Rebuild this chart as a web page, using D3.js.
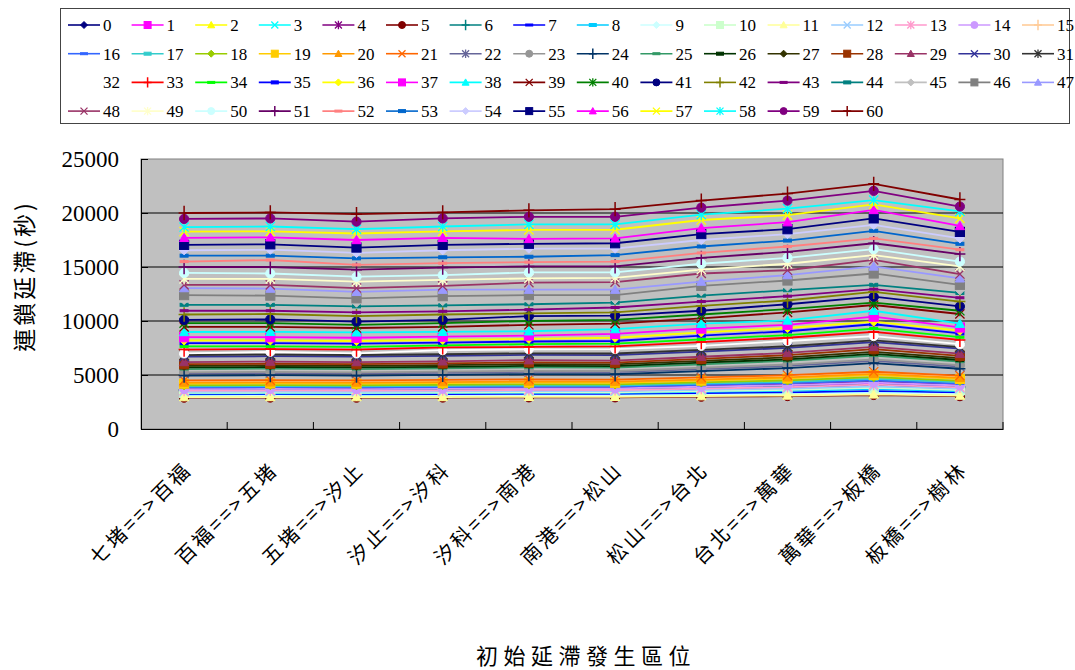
<!DOCTYPE html>
<html><head><meta charset="utf-8">
<script src="https://cdn.jsdelivr.net/npm/d3@7"></script>
<style>body{margin:0;background:#fff;} svg{display:block}</style>
</head><body>
<svg id="chart" width="1075" height="670"></svg>
<script>
const categories = ["七堵==>百福","百福==>五堵","五堵==>汐止","汐止==>汐科","汐科==>南港","南港==>松山","松山==>台北","台北==>萬華","萬華==>板橋","板橋==>樹林"];
const yTicks = [0, 5000, 10000, 15000, 20000, 25000];
const yTitle = "連鎖延滯(秒)";
const xTitle = "初始延滯發生區位";

const s00 = [3500, 3520, 3500, 3530, 3560, 3550, 3680, 3800, 4000, 3780];
const s01 = [3650, 3670, 3650, 3680, 3720, 3710, 3840, 3980, 4200, 3950];
const s02 = [3000, 3010, 3000, 3010, 3030, 3030, 3090, 3150, 3250, 3140];
const s03 = [3150, 3160, 3150, 3170, 3190, 3180, 3260, 3330, 3450, 3320];
const s04 = [3750, 3770, 3750, 3780, 3820, 3810, 3960, 4110, 4350, 4080];
const s05 = [2900, 2910, 2900, 2910, 2930, 2930, 2990, 3050, 3150, 3040];
const s06 = [3600, 3620, 3600, 3630, 3660, 3650, 3780, 3900, 4100, 3880];
const s07 = [3200, 3210, 3200, 3220, 3240, 3230, 3310, 3380, 3500, 3370];
const s08 = [3300, 3310, 3300, 3320, 3350, 3340, 3440, 3540, 3700, 3520];
const s09 = [3050, 3060, 3050, 3070, 3090, 3080, 3160, 3230, 3350, 3220];
const s10 = [3350, 3360, 3350, 3370, 3400, 3400, 3510, 3620, 3800, 3600];
const s11 = [2950, 2960, 2950, 2960, 2980, 2980, 3040, 3100, 3200, 3090];
const s12 = [3450, 3470, 3450, 3480, 3510, 3500, 3630, 3750, 3950, 3730];
const s13 = [3550, 3570, 3550, 3580, 3620, 3610, 3740, 3880, 4100, 3850];
const s14 = [3700, 3720, 3700, 3730, 3770, 3760, 3910, 4060, 4300, 4030];
const s15 = [4400, 4420, 4400, 4440, 4500, 4480, 4680, 4880, 5200, 4840];
const s16 = [3850, 3870, 3850, 3880, 3930, 3920, 4080, 4240, 4500, 4210];
const s17 = [3950, 3970, 3950, 3990, 4030, 4020, 4200, 4370, 4650, 4340];
const s18 = [4050, 4070, 4050, 4090, 4140, 4130, 4310, 4500, 4800, 4460];
const s19 = [4200, 4220, 4200, 4240, 4300, 4280, 4480, 4680, 5000, 4640];
const s20 = [4300, 4320, 4300, 4340, 4400, 4380, 4580, 4780, 5100, 4740];
const s21 = [4500, 4520, 4500, 4540, 4600, 4580, 4780, 4980, 5300, 4940];
const s22 = [5150, 5180, 5150, 5210, 5290, 5270, 5550, 5840, 6300, 5780];
const s23 = [5250, 5290, 5250, 5310, 5390, 5370, 5670, 5970, 6450, 5910];
const s24 = [4950, 4980, 4950, 5010, 5090, 5070, 5350, 5640, 6100, 5580];
const s25 = [5550, 5590, 5550, 5610, 5700, 5680, 5990, 6300, 6800, 6240];
const s26 = [5700, 5740, 5700, 5760, 5850, 5830, 6140, 6450, 6950, 6390];
const s27 = [5850, 5890, 5850, 5920, 6010, 5980, 6310, 6630, 7150, 6570];
const s28 = [6000, 6040, 6000, 6070, 6170, 6140, 6490, 6840, 7400, 6770];
const s29 = [6200, 6240, 6200, 6270, 6370, 6340, 6690, 7040, 7600, 6970];
const s30 = [6700, 6740, 6700, 6770, 6860, 6840, 7170, 7510, 8050, 7440];
const s31 = [6850, 6890, 6850, 6920, 7010, 6990, 7320, 7660, 8200, 7590];
const s32 = [7000, 7150, 7000, 7300, 7380, 7400, 7700, 8150, 8600, 7850];
const s33 = [7350, 7400, 7350, 7550, 7600, 7650, 8050, 8450, 9000, 8250];
const s34 = [7650, 7650, 7600, 7750, 7850, 7900, 8300, 8700, 9300, 8500];
const s35 = [7950, 7950, 7900, 8000, 8100, 8150, 8650, 9050, 9700, 8850];
const s36 = [8200, 8200, 8150, 8250, 8350, 8450, 8950, 9350, 9950, 9100];
const s37 = [8500, 8500, 8450, 8550, 8650, 8800, 9300, 9650, 10400, 9400];
const s38 = [8980, 9000, 8950, 9000, 9050, 9250, 9750, 10050, 10950, 9750];
const s39 = [9450, 9450, 9350, 9450, 9650, 9750, 10250, 10800, 11480, 10650];
const s40 = [9800, 9800, 9650, 9800, 10000, 10100, 10600, 11100, 11700, 10950];
const s41 = [10100, 10150, 9950, 10100, 10450, 10500, 10950, 11550, 12250, 11350];
const s42 = [10600, 10650, 10450, 10600, 10700, 10800, 11400, 11900, 12700, 11800];
const s43 = [10950, 10950, 10800, 10900, 11050, 11250, 11800, 12300, 12950, 12150];
const s44 = [11500, 11500, 11350, 11450, 11550, 11700, 12350, 12850, 13350, 12600];
const s45 = [11950, 11950, 11700, 11850, 11950, 12000, 12750, 13200, 13900, 12850];
const s46 = [12400, 12350, 12100, 12300, 12400, 12400, 13250, 13750, 14400, 13350];
const s47 = [13050, 13000, 12700, 12900, 12900, 12900, 13650, 14250, 15050, 13950];
const s48 = [13350, 13350, 13050, 13250, 13550, 13600, 14400, 14700, 15650, 14350];
const s49 = [13900, 13900, 13650, 13800, 13950, 14000, 14750, 15300, 16100, 15050];
const s50 = [14450, 14400, 14100, 14250, 14500, 14500, 15300, 15850, 16650, 15500];
const s51 = [15000, 15000, 14750, 14950, 15050, 15050, 15850, 16400, 17200, 16200];
const s52 = [15500, 15650, 15200, 15350, 15450, 15500, 16300, 16900, 17650, 16600];
const s53 = [16050, 16050, 15800, 15900, 15950, 16100, 16900, 17450, 18350, 17150];
const s54 = [16550, 16600, 16300, 16550, 16700, 16700, 17500, 18050, 18900, 17650];
const s55 = [17050, 17100, 16800, 17050, 17150, 17200, 18050, 18500, 19500, 18250];
const s56 = [17700, 17750, 17500, 17700, 17600, 17650, 18600, 19150, 20280, 18800];
const s57 = [18270, 18300, 18100, 18300, 18430, 18450, 19350, 19800, 20800, 19500];
const s58 = [18700, 18750, 18500, 18750, 18950, 18950, 19850, 20400, 21200, 20150];
const s59 = [19450, 19500, 19200, 19500, 19650, 19650, 20500, 21150, 22050, 20600];
const s60 = [20000, 20050, 19900, 20050, 20250, 20350, 21150, 21800, 22700, 21250];

const seriesValues = [s00,s01,s02,s03,s04,s05,s06,s07,s08,s09,s10,s11,s12,s13,s14,s15,s16,s17,s18,s19,
  s20,s21,s22,s23,s24,s25,s26,s27,s28,s29,s30,s31,s32,s33,s34,s35,s36,s37,s38,s39,
  s40,s41,s42,s43,s44,s45,s46,s47,s48,s49,s50,s51,s52,s53,s54,s55,s56,s57,s58,s59,s60];
const seriesNames = ["0","1","2","3","4","5","6","7","8","9","10","11","12","13","14","15","16","17","18","19",
  "20","21","22","23","24","25","26","27","28","29","30","31","32","33","34","35","36","37","38","39",
  "40","41","42","43","44","45","46","47","48","49","50","51","52","53","54","55","56","57","58","59","60"];

// styles
const colors = ["#000080","#FF00FF","#FFFF00","#00FFFF","#800080","#800000","#008080","#0000FF","#00CCFF","#CCFFFF",
  "#CCFFCC","#FFFF99","#99CCFF","#FF99CC","#CC99FF","#FFCC99","#3366FF","#33CCCC","#99CC00","#FFCC00",
  "#FF9900","#FF6600","#666699","#969696","#003366","#339966","#003300","#333300","#993300","#993366",
  "#333399","#333333","#FFFFFF","#FF0000","#00FF00","#0000FF","#FFFF00","#FF00FF","#00FFFF","#800000",
  "#008000","#000080","#808000","#800080","#008080","#C0C0C0","#808080","#9999FF","#993366","#FFFFCC",
  "#CCFFFF","#660066","#FF8080","#0066CC","#CCCCFF","#000080","#FF00FF","#FFFF00","#00FFFF","#800080","#800000"];
const markerCycle = ["diamond","square","triangle","x","star","circle","plus","dash","dash2"];

const serif = "'Liberation Serif','Times New Roman',serif";
const cjk = "'Noto Sans CJK TC','Noto Sans CJK SC',sans-serif";

const svg = d3.select("#chart");
const plot = {l:141, r:1003, t:159, b:429};
const x = d3.scaleBand().domain(categories).range([plot.l, plot.r]);
const y = d3.scaleLinear().domain([0, 25000]).range([plot.b, plot.t]);
const cx = c => x(c) + x.bandwidth()/2;

function drawMarker(g, type, color, r) {
  let el;
  switch (type) {
    case "diamond": el = g.append("path").attr("d", `M0,${-r}L${r},0L0,${r}L${-r},0Z`); break;
    case "square": el = g.append("rect").attr("x", -r).attr("y", -r).attr("width", 2*r).attr("height", 2*r); break;
    case "triangle": el = g.append("path").attr("d", `M0,${-r}L${r},${r*0.8}L${-r},${r*0.8}Z`); break;
    case "circle": el = g.append("circle").attr("r", r); break;
    case "dash": el = g.append("rect").attr("x", -r).attr("y", -1).attr("width", 2*r).attr("height", 2); break;
    case "dash2": el = g.append("rect").attr("x", -r).attr("y", -1.5).attr("width", 2*r).attr("height", 3); break;
    case "x": g.append("path").attr("d", `M${-r},${-r}L${r},${r}M${-r},${r}L${r},${-r}`).attr("fill","none").attr("stroke", color).attr("stroke-width", 1.3); return;
    case "star": g.append("path").attr("d", `M${-r},${-r}L${r},${r}M${-r},${r}L${r},${-r}M0,${-r*1.2}L0,${r*1.2}`).attr("fill","none").attr("stroke", color).attr("stroke-width", 1.3); return;
    case "plus": g.append("path").attr("d", `M${-r},0L${r},0M0,${-r*1.3}L0,${r*1.3}`).attr("fill","none").attr("stroke", color).attr("stroke-width", 1.5); return;
  }
  el.attr("fill", color).attr("stroke", color).attr("stroke-width", 1);
}

// plot area
svg.append("rect").attr("x", plot.l).attr("y", plot.t).attr("width", plot.r-plot.l).attr("height", plot.b-plot.t)
  .attr("fill", "#C0C0C0").attr("stroke", "#808080").attr("stroke-width", 1);

// gridlines
svg.append("g").selectAll("line").data(yTicks.filter(v => v > 0 && v < 25000)).join("line")
  .attr("x1", plot.l).attr("x2", plot.r).attr("y1", d => y(d)).attr("y2", d => y(d))
  .attr("stroke", "#000").attr("stroke-width", 1);

// y axis
const yAxis = svg.append("g").attr("transform", `translate(${plot.l},0)`)
  .call(d3.axisLeft(y).tickValues(yTicks).tickSize(-7).tickSizeOuter(0).tickPadding(22).tickFormat(d3.format("d")));
yAxis.select(".domain").attr("stroke", "#000");
yAxis.selectAll(".tick line").attr("stroke", "#000");
yAxis.selectAll("text").attr("font-family", serif).attr("font-size", 23).attr("fill", "#000");

// x axis
const xAxis = svg.append("g").attr("transform", `translate(0,${plot.b})`)
  .call(d3.axisBottom(x).tickSize(0).tickSizeOuter(0));
xAxis.select(".domain").attr("stroke", "#000");
xAxis.selectAll("text").attr("font-family", cjk).attr("font-size", 20).attr("fill", "#000")
  .attr("text-anchor", "end").attr("y", 0).attr("dy", 0).attr("letter-spacing", 3)
  .attr("transform", "translate(9,42) rotate(-45)");
// band boundary ticks
svg.append("g").selectAll("line").data(categories.slice(1).concat([null])).join("line")
  .attr("x1", d => d ? x(d) : plot.r).attr("x2", d => d ? x(d) : plot.r)
  .attr("y1", plot.b).attr("y2", plot.b - 7).attr("stroke", "#000");

// series
const line = d3.line().x((d, i) => cx(categories[i])).y(d => y(d));
seriesValues.forEach((vals, si) => {
  const g = svg.append("g");
  g.append("path").attr("d", line(vals)).attr("fill", "none").attr("stroke", colors[si]).attr("stroke-width", 1.8);
  const type = markerCycle[si % 9];
  vals.forEach((v, i) => {
    const mg = g.append("g").attr("transform", `translate(${cx(categories[i])},${y(v)})`);
    drawMarker(mg, type, colors[si], type === "plus" ? 5.5 : (type === "dash" || type === "dash2" ? 4 : 4.6));
  });
});

// legend
const leg = svg.append("g");
leg.append("rect").attr("x", 60.5).attr("y", 8.5).attr("width", 1009).attr("height", 115)
  .attr("fill", "#fff").attr("stroke", "#444").attr("stroke-width", 1);
seriesNames.forEach((name, i) => {
  const row = Math.floor(i / 16), col = i % 16;
  const x0 = 68 + col * 63.6, yy = 25 + row * 28.7;
  const g = leg.append("g");
  g.append("line").attr("x1", x0).attr("x2", x0 + 32).attr("y1", yy).attr("y2", yy)
    .attr("stroke", colors[i]).attr("stroke-width", 1.6);
  const mg = g.append("g").attr("transform", `translate(${x0 + 16},${yy})`);
  const type = markerCycle[i % 9];
  drawMarker(mg, type, colors[i], type === "plus" ? 4 : 3.5);
  g.append("text").attr("x", x0 + 35).attr("y", yy + 6).text(name)
    .attr("font-family", serif).attr("font-size", 17).attr("fill", "#000");
});

// titles
svg.append("text").attr("transform", "translate(33,276) rotate(-90)").attr("text-anchor", "middle")
  .attr("font-family", cjk).attr("font-size", 23).attr("letter-spacing", 3).attr("fill", "#000").text(yTitle);
svg.append("text").attr("x", 476).attr("y", 664).attr("text-anchor", "start")
  .attr("font-family", cjk).attr("font-size", 22).attr("letter-spacing", 5.5).attr("fill", "#000").text(xTitle);
</script>
</body></html>
